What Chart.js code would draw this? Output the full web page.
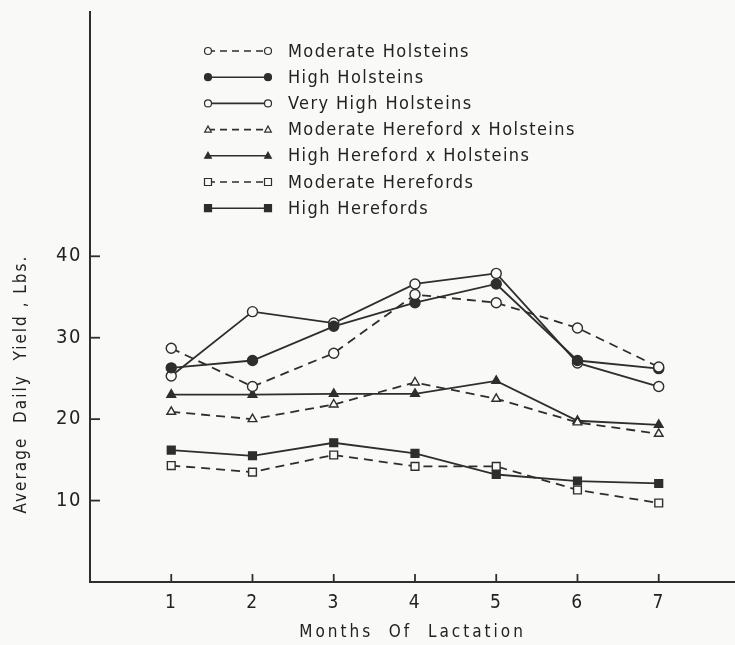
<!DOCTYPE html>
<html>
<head>
<meta charset="utf-8">
<script src="https://cdn.jsdelivr.net/npm/chart.js@4.4.0/dist/chart.umd.min.js"></script>
<style>
  html, body { margin: 0; padding: 0; background: #f9f9f7; overflow: hidden; }
  #wrap { width: 735px; height: 645px; overflow: hidden; }
</style>
</head>
<body>
<div id="wrap"><canvas id="milk" width="742" height="645"></canvas></div>
<script>
// months of lactation and average daily yield (lbs.) per group
const months = [1, 2, 3, 4, 5, 6, 7];
const yTickValues = [10, 20, 30, 40];

const moderateHolsteins   = [28.7, 24.0, 28.1, 35.3, 34.3, 31.2, 26.4];
const highHolsteins       = [26.3, 27.2, 31.4, 34.3, 36.6, 27.2, 26.2];
const veryHighHolsteins   = [25.3, 33.2, 31.8, 36.6, 37.9, 26.9, 24.0];
const moderateHerefordX   = [20.9, 20.0, 21.8, 24.5, 22.5, 19.6, 18.2];
const highHerefordX       = [23.0, 23.0, 23.1, 23.1, 24.7, 19.8, 19.3];
const moderateHerefords   = [14.3, 13.5, 15.6, 14.2, 14.2, 11.3, 9.7];
const highHerefords       = [16.2, 15.5, 17.1, 15.8, 13.2, 12.4, 12.1];

const ink = '#2e2e2e';
const textInk = '#222222';
const paper = '#f9f9f7';
const fontFamily = "'DejaVu Sans Condensed', 'Liberation Sans Narrow', sans-serif";
const dash = [9, 6];

function series(label, values, shape, filled, dashed) {
  return {
    label: label,
    data: months.map((m, i) => ({ x: m, y: values[i] })),
    borderColor: ink,
    borderWidth: 1.8,
    borderDash: dashed ? dash : [],
    pointStyle: shape,
    pointRadius: shape === 'rect' ? 5.5 : 5,
    pointBorderWidth: 1.4,
    pointBorderColor: ink,
    pointBackgroundColor: filled ? ink : paper,
    tension: 0,
    fill: false
  };
}

const datasets = [
  series('Moderate Holsteins', moderateHolsteins, 'circle', false, true),
  series('High Holsteins', highHolsteins, 'circle', true, false),
  series('Very High Holsteins', veryHighHolsteins, 'circle', false, false),
  series('Moderate Hereford x Holsteins', moderateHerefordX, 'triangle', false, true),
  series('High Hereford x Holsteins', highHerefordX, 'triangle', true, false),
  series('Moderate Herefords', moderateHerefords, 'rect', false, true),
  series('High Herefords', highHerefords, 'rect', true, false)
];

function drawMarker(ctx, shape, x, y, r, filled) {
  ctx.beginPath();
  if (shape === 'circle') {
    ctx.arc(x, y, r, 0, Math.PI * 2);
  } else if (shape === 'triangle') {
    ctx.moveTo(x, y - r);
    ctx.lineTo(x + r * 0.95, y + r * 0.7);
    ctx.lineTo(x - r * 0.95, y + r * 0.7);
    ctx.closePath();
  } else {
    ctx.rect(x - r, y - r, r * 2, r * 2);
  }
  ctx.fillStyle = filled ? ink : paper;
  ctx.fill();
  ctx.lineWidth = 1.2;
  ctx.strokeStyle = ink;
  ctx.setLineDash([]);
  ctx.stroke();
}

// ticks point inward, titles spaced out like the typed original, legend inside the plot
const paperLook = {
  id: 'paperLook',
  beforeDraw(chart) {
    const ctx = chart.ctx;
    ctx.save();
    ctx.fillStyle = paper;
    ctx.fillRect(0, 0, chart.width, chart.height);
    ctx.restore();
    ctx.letterSpacing = '1.5px';
  },
  afterDraw(chart) {
    const ctx = chart.ctx;
    const xs = chart.scales.x, ys = chart.scales.y;
    ctx.save();
    ctx.strokeStyle = ink;
    ctx.lineWidth = 1.8;
    ctx.setLineDash([]);
    months.forEach(m => {
      const px = xs.getPixelForValue(m);
      ctx.beginPath();
      ctx.moveTo(px, xs.top);
      ctx.lineTo(px, xs.top - 8);
      ctx.stroke();
    });
    yTickValues.forEach(v => {
      const py = ys.getPixelForValue(v);
      ctx.beginPath();
      ctx.moveTo(ys.right, py);
      ctx.lineTo(ys.right + 10, py);
      ctx.stroke();
    });

    // axis titles
    ctx.fillStyle = textInk;
    ctx.font = '17px ' + fontFamily;
    ctx.letterSpacing = '3px';
    ctx.textAlign = 'center';
    ctx.textBaseline = 'middle';
    ctx.fillText('Months  Of  Lactation', (xs.left + xs.right) / 2, 633);
    ctx.save();
    ctx.translate(22, 384);
    ctx.rotate(-Math.PI / 2);
    ctx.letterSpacing = '2px';
    ctx.fillText('Average  Daily  Yield , Lbs.', 0, 0);
    ctx.restore();

    // legend
    ctx.font = '18px ' + fontFamily;
    ctx.letterSpacing = '1.4px';
    ctx.textAlign = 'left';
    datasets.forEach((ds, i) => {
      const y = 51 + i * 26.2;
      const filled = ds.pointBackgroundColor === ink;
      ctx.strokeStyle = ink;
      ctx.lineWidth = 1.6;
      ctx.setLineDash(ds.borderDash.length ? [7, 5] : []);
      ctx.beginPath();
      ctx.moveTo(208, y);
      ctx.lineTo(268, y);
      ctx.stroke();
      drawMarker(ctx, ds.pointStyle, 208, y, 3.5, filled);
      drawMarker(ctx, ds.pointStyle, 268, y, 3.5, filled);
      ctx.fillStyle = textInk;
      ctx.fillText(ds.label, 288, y + 1);
    });
    ctx.restore();
  }
};

new Chart(document.getElementById('milk'), {
  type: 'line',
  data: { datasets: datasets },
  options: {
    responsive: false,
    devicePixelRatio: 1,
    animation: false,
    layout: { padding: { top: 12, right: 0, left: 0, bottom: 0 } },
    plugins: {
      legend: { display: false },
      tooltip: { enabled: false }
    },
    scales: {
      x: {
        type: 'linear',
        min: 0,
        max: 7.94,
        afterBuildTicks: s => { s.ticks = months.map(v => ({ value: v })); },
        afterFit: s => { s.height = 63; s.paddingLeft = 0; s.paddingRight = 0; },
        grid: { display: false },
        border: { display: true, color: ink, width: 2 },
        ticks: {
          color: textInk,
          padding: 2,
          font: { family: fontFamily, size: 19 },
          callback: v => String(v)
        }
      },
      y: {
        type: 'linear',
        min: 0,
        max: 70,
        afterBuildTicks: s => { s.ticks = yTickValues.map(v => ({ value: v })); },
        afterFit: s => { s.width = 90; s.paddingTop = 0; s.paddingBottom = 0; },
        grid: { display: false },
        border: { display: true, color: ink, width: 2 },
        ticks: {
          color: textInk,
          padding: 0,
          font: { family: fontFamily, size: 20 },
          callback: v => String(v)
        }
      }
    }
  },
  plugins: [paperLook]
});
</script>
</body>
</html>
